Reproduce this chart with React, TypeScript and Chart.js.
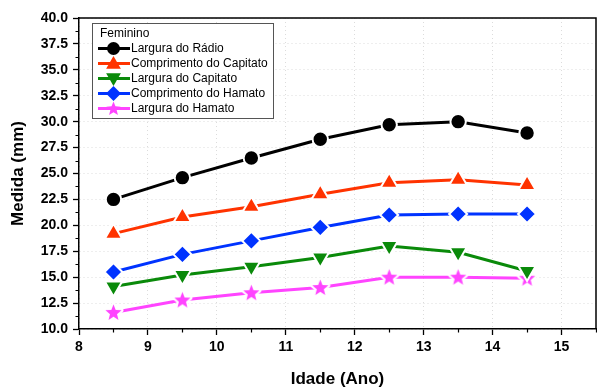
import React, { useEffect, useRef } from 'react';
import { Chart, registerables } from 'chart.js';
import { drawPoint } from 'chart.js/helpers';

Chart.register(...registerables);

const ages = [8.5, 9.5, 10.5, 11.5, 12.5, 13.5, 14.5];
const larguraRadio = [22.5, 24.6, 26.5, 28.3, 29.7, 30.0, 28.9];
const comprimentoCapitato = [19.2, 20.8, 21.8, 23.0, 24.1, 24.4, 23.9];
const larguraCapitato = [14.1, 15.2, 16.0, 16.9, 18.0, 17.4, 15.6];
const comprimentoHamato = [15.5, 17.2, 18.5, 19.8, 21.0, 21.1, 21.1];
const larguraHamato = [11.6, 12.8, 13.5, 14.0, 15.0, 15.0, 14.9];

const seriesLabels = [
  'Largura do Rádio',
  'Comprimento do Capitato',
  'Largura do Capitato',
  'Comprimento do Hamato',
  'Largura do Hamato',
];
const legendTitle = 'Feminino';
const xTitle = 'Idade (Ano)';
const yTitle = 'Medida (mm)';
const xTicks = [8, 9, 10, 11, 12, 13, 14, 15];
const xMinorTicks = [8.5, 9.5, 10.5, 11.5, 12.5, 13.5, 14.5, 15.5];
const yTicks = [10, 12.5, 15, 17.5, 20, 22.5, 25, 27.5, 30, 32.5, 35, 37.5, 40];
const yMinorTicks = [11.25, 13.75, 16.25, 18.75, 21.25, 23.75, 26.25, 28.75, 31.25, 33.75, 36.25, 38.75];

const FONT = 'Arial, "Liberation Sans", sans-serif';

function makeStar(outer: number, inner: number, color: string, outline: number) {
  const size = Math.ceil((outer + outline) * 2 + 2);
  const c = document.createElement('canvas');
  c.width = size;
  c.height = size;
  const ctx = c.getContext('2d')!;
  const cx = size / 2;
  const cy = size / 2 + 0.5;
  ctx.beginPath();
  for (let i = 0; i < 10; i++) {
    const r = i % 2 === 0 ? outer : inner;
    const a = -Math.PI / 2 + (i * Math.PI) / 5;
    const px = cx + Math.cos(a) * r;
    const py = cy + Math.sin(a) * r;
    if (i === 0) ctx.moveTo(px, py);
    else ctx.lineTo(px, py);
  }
  ctx.closePath();
  if (outline > 0) {
    ctx.lineWidth = outline * 2;
    ctx.lineJoin = 'round';
    ctx.strokeStyle = '#ffffff';
    ctx.stroke();
  }
  ctx.fillStyle = color;
  ctx.fill();
  return c;
}

export default function App() {
  const ref = useRef<HTMLCanvasElement | null>(null);

  useEffect(() => {
    document.body.style.margin = '0';
    const canvas = ref.current!;
    const colors = ['#000000', '#ff3300', '#0a8a0a', '#0033ff', '#ff44ff'];
    const starChart = makeStar(8.5, 3.7, colors[4], 2);
    const starLegend = makeStar(7.5, 3.3, colors[4], 0);
    const seriesData = [larguraRadio, comprimentoCapitato, larguraCapitato, comprimentoHamato, larguraHamato];
    const styles: any[] = ['circle', 'triangle', 'triangle', 'rectRot', starChart];
    const legendStyles: any[] = ['circle', 'triangle', 'triangle', 'rectRot', starLegend];
    const rotations = [0, 0, 180, 0, 0];
    const radii = [7.7, 10, 10, 9, 8];
    const legendRadii = [6.5, 8.5, 8.5, 7.5, 7];

    const datasets = seriesData.map((vals, i) => ({
      label: seriesLabels[i],
      data: vals.map((v, j) => ({ x: ages[j], y: v })),
      showLine: true,
      borderColor: colors[i],
      backgroundColor: colors[i],
      borderWidth: 3,
      pointStyle: styles[i],
      rotation: rotations[i],
      pointRadius: radii[i],
      pointBackgroundColor: colors[i],
      pointBorderColor: '#ffffff',
      pointBorderWidth: i === 4 ? 0 : 2,
    }));

    const framePlugin = {
      id: 'frameAndMinor',
      afterDraw(chart: any) {
        const { ctx, chartArea: a } = chart;
        const xs = chart.scales.x;
        const ys = chart.scales.y;
        ctx.save();
        ctx.strokeStyle = '#000';
        ctx.lineWidth = 1.5;
        ctx.beginPath();
        ctx.moveTo(a.left, a.top);
        ctx.lineTo(a.right, a.top);
        ctx.lineTo(a.right, a.bottom);
        ctx.stroke();
        ctx.lineWidth = 1.2;
        ctx.beginPath();
        xMinorTicks.forEach((v) => {
          const px = Math.round(xs.getPixelForValue(v)) + 0.5;
          ctx.moveTo(px, a.bottom);
          ctx.lineTo(px, a.bottom + 3.5);
        });
        yMinorTicks.forEach((v) => {
          const py = Math.round(ys.getPixelForValue(v)) + 0.5;
          ctx.moveTo(a.left, py);
          ctx.lineTo(a.left - 3.5, py);
        });
        ctx.stroke();

        // legend box
        const bx = 92, by = 23, bw = 181, bh = 95;
        ctx.fillStyle = '#ffffff';
        ctx.fillRect(bx, by, bw, bh);
        ctx.strokeStyle = '#555555';
        ctx.lineWidth = 1;
        ctx.strokeRect(bx + 0.5, by + 0.5, bw, bh);
        ctx.fillStyle = '#000';
        ctx.font = '12px ' + FONT;
        ctx.textBaseline = 'middle';
        ctx.textAlign = 'left';
        ctx.fillText(legendTitle, 100, 34);
        chart.data.datasets.forEach((ds: any, i: number) => {
          const cy = 48.5 + i * 15;
          ctx.strokeStyle = ds.borderColor;
          ctx.lineWidth = 3;
          ctx.beginPath();
          ctx.moveTo(98, cy);
          ctx.lineTo(130, cy);
          ctx.stroke();
          ctx.fillStyle = ds.borderColor;
          drawPoint(ctx, {
            pointStyle: legendStyles[i],
            rotation: rotations[i],
            radius: legendRadii[i],
            borderWidth: 0,
          } as any, 113.5, cy + (i === 1 ? 1 : i === 2 ? -1 : 0));
          ctx.fillStyle = '#000';
          ctx.fillText(ds.label, 131, cy + 0.5);
        });
        ctx.restore();
      },
    };

    const chart = new Chart(canvas, {
      type: 'scatter',
      data: { datasets },
      options: {
        animation: false,
        responsive: false,
        devicePixelRatio: 1,
        layout: { autoPadding: false, padding: { top: 18, right: 1, left: 0, bottom: 0 } } as any,
        plugins: { legend: { display: false }, tooltip: { enabled: false }, title: { display: false } },
        scales: {
          x: {
            type: 'linear',
            min: 8,
            max: 15.5,
            afterBuildTicks: (s: any) => {
              s.ticks = xTicks.map((v) => ({ value: v }));
            },
            afterFit: (s: any) => {
              s.height = 59;
            },
            ticks: {
              color: '#000',
              padding: 4,
              font: { family: FONT, size: 14, weight: 'bold' },
              callback: (v: any) => String(v),
            },
            grid: {
              color: '#dcdcdc',
              lineWidth: 1,
              tickColor: '#000',
              tickLength: 6,
              tickWidth: 1.3,
            },
            border: { display: true, color: '#000', width: 1.5, dash: [1, 3] },
            title: {
              display: true,
              text: xTitle,
              color: '#000',
              font: { family: FONT, size: 17, weight: 'bold', lineHeight: 1 },
              padding: { top: 0, bottom: 0 },
            },
          },
          y: {
            type: 'linear',
            min: 10,
            max: 40,
            afterBuildTicks: (s: any) => {
              s.ticks = yTicks.map((v) => ({ value: v }));
            },
            afterFit: (s: any) => {
              s.width = 79;
            },
            ticks: {
              color: '#000',
              padding: 5,
              font: { family: FONT, size: 14, weight: 'bold' },
              callback: (v: any) => Number(v).toFixed(1),
            },
            grid: {
              color: '#dcdcdc',
              lineWidth: 1,
              tickColor: '#000',
              tickLength: 6,
              tickWidth: 1.3,
            },
            border: { display: true, color: '#000', width: 1.5, dash: [1, 3] },
            title: {
              display: true,
              text: yTitle,
              color: '#000',
              font: { family: FONT, size: 17, weight: 'bold', lineHeight: 1 },
              padding: { top: 9.5, bottom: 0 },
            },
          },
        },
      } as any,
      plugins: [framePlugin],
    });
    return () => chart.destroy();
  }, []);

  return (
    <div style={{ position: 'absolute', left: 0, top: 0, width: 597, height: 388 }}>
      <canvas ref={ref} width={597} height={388} style={{ width: 597, height: 388, display: 'block' }} />
    </div>
  );
}
